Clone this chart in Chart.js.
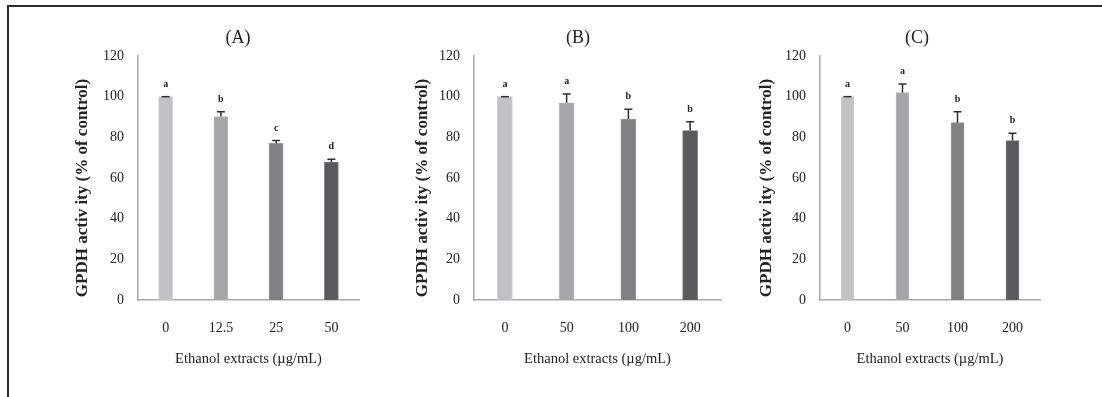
<!DOCTYPE html>
<html>
<head>
<meta charset="utf-8">
<script src="https://cdn.jsdelivr.net/npm/chart.js@4"></script>
<style>
  body { margin: 0; background: #fff; width: 1102px; height: 397px; overflow: hidden; position: relative; }
  #frame { position: absolute; left: 7px; top: 5px; width: 1100px; height: 400px;
           border-top: 2px solid #2b2b2b; border-left: 2px solid #2b2b2b; }
  canvas { position: absolute; top: 0; }
</style>
</head>
<body>
<div id="frame"></div>
<canvas id="chartA" width="340" height="397" style="left:40px"></canvas>
<canvas id="chartB" width="350" height="397" style="left:380px"></canvas>
<canvas id="chartC" width="372" height="397" style="left:730px"></canvas>
<script>
// Data
const categoriesA = ['0', '12.5', '25', '50'];
const valuesA = [100, 90.2, 77.1, 67.7];
const errorsA = [0, 2.4, 1.3, 1.5];
const lettersA = ['a', 'b', 'c', 'd'];

const categoriesB = ['0', '50', '100', '200'];
const valuesB = [100, 97.0, 89.0, 83.3];
const errorsB = [0, 4.3, 4.8, 4.4];
const lettersB = ['a', 'a', 'b', 'b'];

const categoriesC = ['0', '50', '100', '200'];
const valuesC = [100, 102.0, 87.2, 78.4];
const errorsC = [0, 4.2, 5.4, 3.6];
const lettersC = ['a', 'a', 'b', 'b'];

const yMin = 0, yMax = 120, yStep = 20;

const barColors = ['#c2c2c5', '#a6a6a9', '#818184', '#5a5a5c'];
const barEdges = ['#d2d2d5', '#b9b9bc', '#98989b', '#77777a'];
const serif = "'Liberation Serif', 'Times New Roman', serif";

// error bars, letters, panel title and y-axis title
function annotate(vals, errs, letters, title, titleX, yTitleX) {
    return {
        id: 'annotate',
        afterDatasetsDraw(chart) {
            const ctx = chart.ctx;
            const yScale = chart.scales.y;
            const meta = chart.getDatasetMeta(0);
            ctx.save();
            ctx.strokeStyle = '#2e2e2e';
            ctx.lineWidth = 1.5;
            ctx.fillStyle = '#222';
            ctx.font = 'bold 10px ' + serif;
            ctx.textAlign = 'center';
            ctx.textBaseline = 'alphabetic';
            vals.forEach(function(v, i) {
                const bar = meta.data[i];
                const yTop = yScale.getPixelForValue(v + errs[i]);
                const yBar = yScale.getPixelForValue(v);
                ctx.beginPath();
                ctx.moveTo(bar.x, yBar);
                ctx.lineTo(bar.x, yTop);
                ctx.moveTo(bar.x - 4, yTop);
                ctx.lineTo(bar.x + 4, yTop);
                ctx.stroke();
                ctx.fillText(letters[i], bar.x, yTop - 10);
            });
            // panel title
            ctx.font = '18px ' + serif;
            ctx.textBaseline = 'middle';
            ctx.fillText(title, titleX, 38);
            // y title
            ctx.translate(yTitleX, 188);
            ctx.rotate(-Math.PI / 2);
            ctx.font = 'bold 17px ' + serif;
            ctx.fillText('GPDH activ ity (% of control)', 0, 0);
            ctx.restore();
        }
    };
}

function makePanel(canvasId, cats, vals, errs, letters, title, geo) {
    return new Chart(document.getElementById(canvasId), {
        type: 'bar',
        data: {
            labels: cats,
            datasets: [{
                data: vals,
                backgroundColor: barColors,
                borderColor: barEdges,
                borderWidth: 1,
                barThickness: geo.bar
            }]
        },
        options: {
            responsive: false,
            animation: false,
            devicePixelRatio: 1,
            layout: { padding: { left: 0, right: geo.right, top: 56, bottom: 0 } },
            plugins: { legend: { display: false }, tooltip: { enabled: false } },
            scales: {
                x: {
                    grid: { display: false },
                    border: { color: '#a9a9a9', width: 1.5 },
                    ticks: { color: '#222', padding: 12, font: { family: serif, size: 14 } },
                    title: {
                        display: true,
                        text: 'Ethanol extracts (µg/mL)',
                        color: '#222',
                        font: { family: serif, size: 14.5 },
                        padding: { top: 0, bottom: 29 }
                    },
                    afterFit: function(s) { s.height = 97; }
                },
                y: {
                    min: yMin,
                    max: yMax,
                    grid: { display: false, drawTicks: false },
                    border: { color: '#a9a9a9', width: 1.5 },
                    ticks: { stepSize: yStep, color: '#222', padding: 14, font: { family: serif, size: 14 } },
                    afterFit: function(s) { s.width = geo.yWidth; }
                }
            }
        },
        plugins: [annotate(vals, errs, letters, title, geo.titleX, geo.yTitleX)]
    });
}

makePanel('chartA', categoriesA, valuesA, errorsA, lettersA, '(A)',
    { right: 21, yWidth: 98, bar: 14, titleX: 198, yTitleX: 43 });
makePanel('chartB', categoriesB, valuesB, errorsB, lettersB, '(B)',
    { right: 9, yWidth: 94, bar: 15, titleX: 198, yTitleX: 43 });
makePanel('chartC', categoriesC, valuesC, errorsC, lettersC, '(C)',
    { right: 62, yWidth: 90, bar: 13, titleX: 187, yTitleX: 37 });
</script>
</body>
</html>
